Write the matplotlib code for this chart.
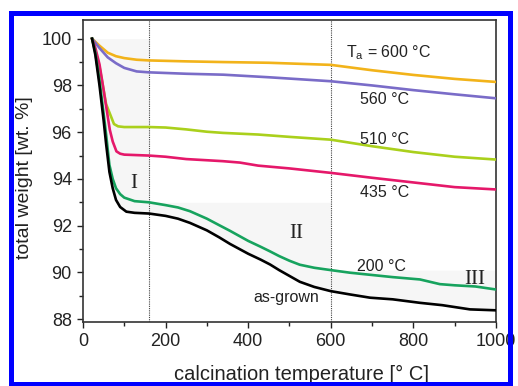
import matplotlib
matplotlib.use("Agg")
import matplotlib.pyplot as plt
from matplotlib.patches import Rectangle
from matplotlib.ticker import MultipleLocator

plt.rcParams['font.family'] = ['Liberation Sans', 'DejaVu Sans']
plt.rcParams['mathtext.default'] = 'regular'

# ---- data ----
T_grown = [22, 30, 40, 50, 56, 64, 72, 80, 90, 105, 125, 160, 200, 230, 259, 300, 330, 356, 400, 430, 453, 475, 500, 525, 560, 600, 646, 695, 750, 816, 870, 937, 1000]
w_grown = [100, 99.3, 98.0, 96.5, 95.5, 94.3, 93.6, 93.1, 92.8, 92.6, 92.55, 92.52, 92.42, 92.3, 92.12, 91.8, 91.5, 91.22, 90.8, 90.55, 90.34, 90.1, 89.85, 89.6, 89.38, 89.2, 89.06, 88.92, 88.85, 88.7, 88.6, 88.42, 88.38]

T_200 = [22, 30, 40, 50, 56, 64, 72, 80, 90, 100, 125, 160, 200, 230, 259, 300, 330, 356, 400, 430, 453, 475, 500, 525, 560, 600, 646, 695, 750, 816, 864, 900, 950, 1000]
w_200 = [100, 99.4, 98.2, 96.8, 95.9, 94.6, 94.0, 93.6, 93.35, 93.2, 93.05, 93.0, 92.88, 92.78, 92.62, 92.3, 92.02, 91.78, 91.35, 91.1, 90.9, 90.7, 90.5, 90.33, 90.2, 90.1, 89.99, 89.9, 89.8, 89.7, 89.5, 89.45, 89.4, 89.27]

T_435 = [22, 30, 40, 50, 57, 65, 72, 81, 90, 100, 130, 160, 200, 250, 300, 339, 380, 424, 500, 600, 700, 800, 900, 1000]
w_435 = [100, 99.6, 98.9, 97.8, 97.0, 96.1, 95.6, 95.18, 95.08, 95.04, 95.02, 95.0, 94.95, 94.85, 94.8, 94.76, 94.7, 94.57, 94.45, 94.26, 94.05, 93.85, 93.65, 93.55]

T_510 = [22, 30, 41, 50, 56, 65, 75, 85, 100, 160, 200, 250, 300, 339, 424, 500, 600, 700, 800, 900, 1000]
w_510 = [100, 99.5, 98.7, 97.8, 97.2, 96.8, 96.35, 96.25, 96.22, 96.22, 96.2, 96.12, 96.02, 95.97, 95.9, 95.8, 95.68, 95.4, 95.15, 94.95, 94.83]

T_560 = [22, 40, 60, 80, 100, 130, 160, 250, 340, 450, 600, 700, 800, 900, 1000]
w_560 = [100, 99.6, 99.2, 98.95, 98.75, 98.6, 98.56, 98.5, 98.46, 98.35, 98.18, 98.0, 97.8, 97.62, 97.45]

T_600 = [22, 40, 60, 80, 100, 130, 160, 250, 340, 450, 600, 700, 800, 900, 1000]
w_600 = [100, 99.7, 99.4, 99.25, 99.17, 99.1, 99.07, 99.03, 99.0, 98.97, 98.88, 98.65, 98.45, 98.28, 98.15]

region_edges = [22, 160, 600, 1000]
region_tops = [100.0, 93.0, 90.1]
region_names = ['I', 'II', 'III']
region_label_pos = [(124, 93.8), (517, 91.67), (949, 89.7)]

divider_T = [160, 600]

curve_labels = ['T$_{a}$ = 600 °C', '560 °C', '510 °C', '435 °C', '200 °C', 'as-grown']
curve_label_pos = [(636, 99.4), (671, 97.4), (671, 95.68), (671, 93.4), (663, 90.27), (492, 88.93)]

# ---- figure ----
fig = plt.figure(figsize=(5.18, 3.86), dpi=100)
ax = fig.add_axes([0.1602, 0.1658, 0.7973, 0.7824])

# shaded regions between as-grown curve and region top
for i in range(3):
    x0, x1 = region_edges[i], region_edges[i + 1]
    mask = [x0 <= t <= x1 for t in T_grown]
    ax.fill_between(T_grown, w_grown, region_tops[i], where=mask,
                    color='#f6f6f6', lw=0, zorder=0)

for t in divider_T:
    ax.axvline(t, color='#444444', lw=0.8, ls=(0, (1.0, 1.0)), zorder=1)

ax.plot(T_600, w_600, color='#f2b31a', lw=1.9, zorder=3)
ax.plot(T_560, w_560, color='#7a6cc8', lw=1.9, zorder=3)
ax.plot(T_510, w_510, color='#aad01c', lw=1.9, zorder=3)
ax.plot(T_435, w_435, color='#e5186a', lw=1.9, zorder=3)
ax.plot(T_200, w_200, color='#17a35e', lw=1.9, zorder=3)
ax.plot(T_grown, w_grown, color='#000000', lw=1.9, zorder=4)

for txt, (x, y) in zip(curve_labels, curve_label_pos):
    ax.text(x, y, txt, fontsize=11.5, ha='left' if txt != 'as-grown' else 'center',
            va='center', color='#222222', zorder=5)

for name, (x, y) in zip(region_names, region_label_pos):
    ax.text(x, y, name, fontsize=15, family='Liberation Serif', ha='center',
            va='center', color='#222222', zorder=5)

ax.set_xlim(0, 1000)
ax.set_ylim(87.88, 100.8)
ax.xaxis.set_major_locator(MultipleLocator(200))
ax.xaxis.set_minor_locator(MultipleLocator(100))
ax.yaxis.set_major_locator(MultipleLocator(2))
ax.yaxis.set_minor_locator(MultipleLocator(1))
ax.tick_params(which='both', direction='out', top=False, right=False,
               labelsize=13, colors='#222222', width=1.0)
ax.tick_params(which='major', length=4.5)
ax.tick_params(which='minor', length=3)
for s in ax.spines.values():
    s.set_linewidth(1.2)
    s.set_color('#333333')

ax.set_xlabel('calcination temperature [° C]', fontsize=14.5, color='#222222')
ax.set_ylabel('total weight [wt. %]', fontsize=14, color='#222222')
ax.xaxis.set_label_coords(0.529, -0.143)
ax.yaxis.set_label_coords(-0.122, 0.477)

# blue frame around the whole picture
fig.patches.append(Rectangle((10.5 / 518, 2.5 / 386), 499 / 518, 370.5 / 386,
                             transform=fig.transFigure, fill=False,
                             edgecolor='#0000ff', lw=3.6, zorder=10))

fig.savefig('out.png', dpi=100)
